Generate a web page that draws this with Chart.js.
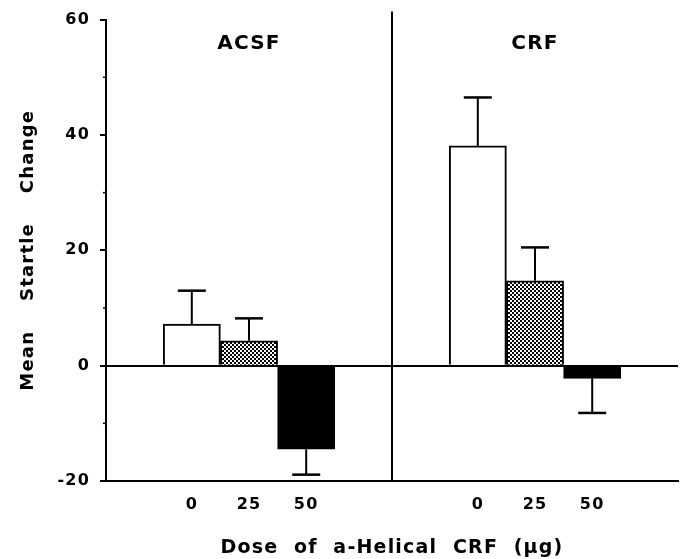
<!DOCTYPE html>
<html><head><meta charset="utf-8">
<script src="https://cdn.jsdelivr.net/npm/chart.js@4"></script>
<style>html,body{margin:0;padding:0;background:#fff}#wrap{width:686px;height:559px}</style>
</head><body><div id="wrap"><canvas id="c" width="686" height="559"></canvas></div>
<script>
const groups = ['ACSF', 'CRF'];
const doses = ['0', '25', '50'];
const acsfMeans = [7.2, 4.3, -14.5];
const acsfSEM = [5.8, 3.9, 4.4];
const crfMeans = [38.1, 14.7, -2.2];
const crfSEM = [8.4, 5.8, 6.0];
const yTicks = [-20, 0, 20, 40, 60];
const yMinorTicks = [-10, 10, 30, 50];
const xTitle = 'Dose  of  a-Helical  CRF  (µg)';
const yTitle = 'Mean    Startle    Change';

function makePattern() {
  const c = document.createElement('canvas');
  c.width = 4; c.height = 4;
  const x = c.getContext('2d');
  x.fillStyle = '#fff'; x.fillRect(0, 0, 4, 4);
  x.fillStyle = '#000'; x.fillRect(0, 0, 2, 2); x.fillRect(2, 2, 2, 2);
  return x.createPattern(c, 'repeat');
}
const pat = makePattern();
const doseFill = ['#ffffff', pat, '#000000'];

// build category slots: blank, doses, blank | blank, doses, blank
const categories = [], values = [], errs = [], fills = [], groupCenter = [];
[[acsfMeans, acsfSEM], [crfMeans, crfSEM]].forEach(([m, e], g) => {
  categories.push(''); values.push(null); errs.push(null); fills.push('#fff');
  groupCenter.push(categories.length + Math.floor(doses.length / 2));
  doses.forEach((d, i) => { categories.push(d); values.push(m[i]); errs.push(e[i]); fills.push(doseFill[i]); });
  categories.push(''); values.push(null); errs.push(null); fills.push('#fff');
});

const FONT = 'DejaVu Sans';
const LS = '1.2px';
const spacing = {
  id: 'spacing',
  beforeUpdate(chart) { chart.ctx.letterSpacing = LS; },
  beforeDraw(chart) { chart.ctx.letterSpacing = LS; }
};

const extras = {
  id: 'extras',
  afterDatasetsDraw(chart) {
    const ctx = chart.ctx, xs = chart.scales.x, ys = chart.scales.y;
    ctx.save();
    ctx.strokeStyle = '#000';
    values.forEach((v, i) => {
      if (v === null) return;
      const x = xs.getPixelForValue(i);
      const y0 = ys.getPixelForValue(v);
      const y1 = ys.getPixelForValue(v >= 0 ? v + errs[i] : v - errs[i]);
      ctx.lineWidth = 2;
      ctx.beginPath(); ctx.moveTo(x, y0); ctx.lineTo(x, y1); ctx.stroke();
      ctx.lineWidth = 2.5;
      ctx.beginPath(); ctx.moveTo(x - 14, y1); ctx.lineTo(x + 14, y1); ctx.stroke();
    });
    ctx.restore();
  },
  afterDraw(chart) {
    const ctx = chart.ctx, xs = chart.scales.x, ys = chart.scales.y, a = chart.chartArea;
    ctx.save();
    ctx.strokeStyle = '#000';
    // divider between groups
    const xd = (xs.getPixelForValue(4) + xs.getPixelForValue(5)) / 2;
    ctx.lineWidth = 2;
    ctx.beginPath(); ctx.moveTo(xd, a.top - 8); ctx.lineTo(xd, a.bottom); ctx.stroke();
    // minor ticks
    ctx.lineWidth = 1.5;
    yMinorTicks.forEach(v => {
      const y = ys.getPixelForValue(v);
      ctx.beginPath(); ctx.moveTo(a.left - 3, y); ctx.lineTo(a.left, y); ctx.stroke();
    });
    // group labels
    ctx.letterSpacing = LS;
    ctx.fillStyle = '#000';
    ctx.font = 'bold 20px "' + FONT + '"';
    ctx.textAlign = 'center'; ctx.textBaseline = 'middle';
    groups.forEach((g, i) => {
      ctx.fillText(g, xs.getPixelForValue(groupCenter[i]), a.top + 24);
    });
    ctx.restore();
  }
};

new Chart(document.getElementById('c'), {
  type: 'bar',
  data: {
    labels: categories,
    datasets: [{
      data: values,
      backgroundColor: fills,
      borderColor: '#000',
      borderWidth: 2,
      barPercentage: 1,
      categoryPercentage: 1
    }]
  },
  options: {
    responsive: false,
    animation: false,
    devicePixelRatio: 1,
    layout: { padding: { left: 0, right: 8, top: 18, bottom: 0 } },
    plugins: { legend: { display: false }, tooltip: { enabled: false } },
    scales: {
      x: {
        type: 'category',
        offset: true,
        grid: { display: false, drawTicks: false },
        border: { display: true, color: '#000', width: 2 },
        ticks: { color: '#000', font: { family: FONT, weight: 'bold', size: 16 }, padding: 14, maxRotation: 0, autoSkip: false },
        title: { display: true, text: xTitle, color: '#000', font: { family: FONT, weight: 'bold', size: 19 }, padding: { top: 12, bottom: 0 } },
        afterFit(s) { s.height = 78; }
      },
      y: {
        min: -20, max: 60,
        afterBuildTicks(s) { s.ticks = yTicks.map(v => ({ value: v })); },
        grid: {
          color: c => (c.tick && c.tick.value === 0) ? '#000' : 'rgba(0,0,0,0)',
          lineWidth: 2, tickColor: '#000', tickLength: 6, tickWidth: 2
        },
        border: { display: true, color: '#000', width: 2 },
        ticks: { color: '#000', font: { family: FONT, weight: 'bold', size: 16 }, padding: 10 },
        title: { display: true, text: yTitle, color: '#000', font: { family: FONT, weight: 'bold', size: 18 }, padding: { top: 18, bottom: 0 } },
        afterFit(s) { s.width = 106; }
      }
    }
  },
  plugins: [spacing, extras]
});
</script>
</body></html>
